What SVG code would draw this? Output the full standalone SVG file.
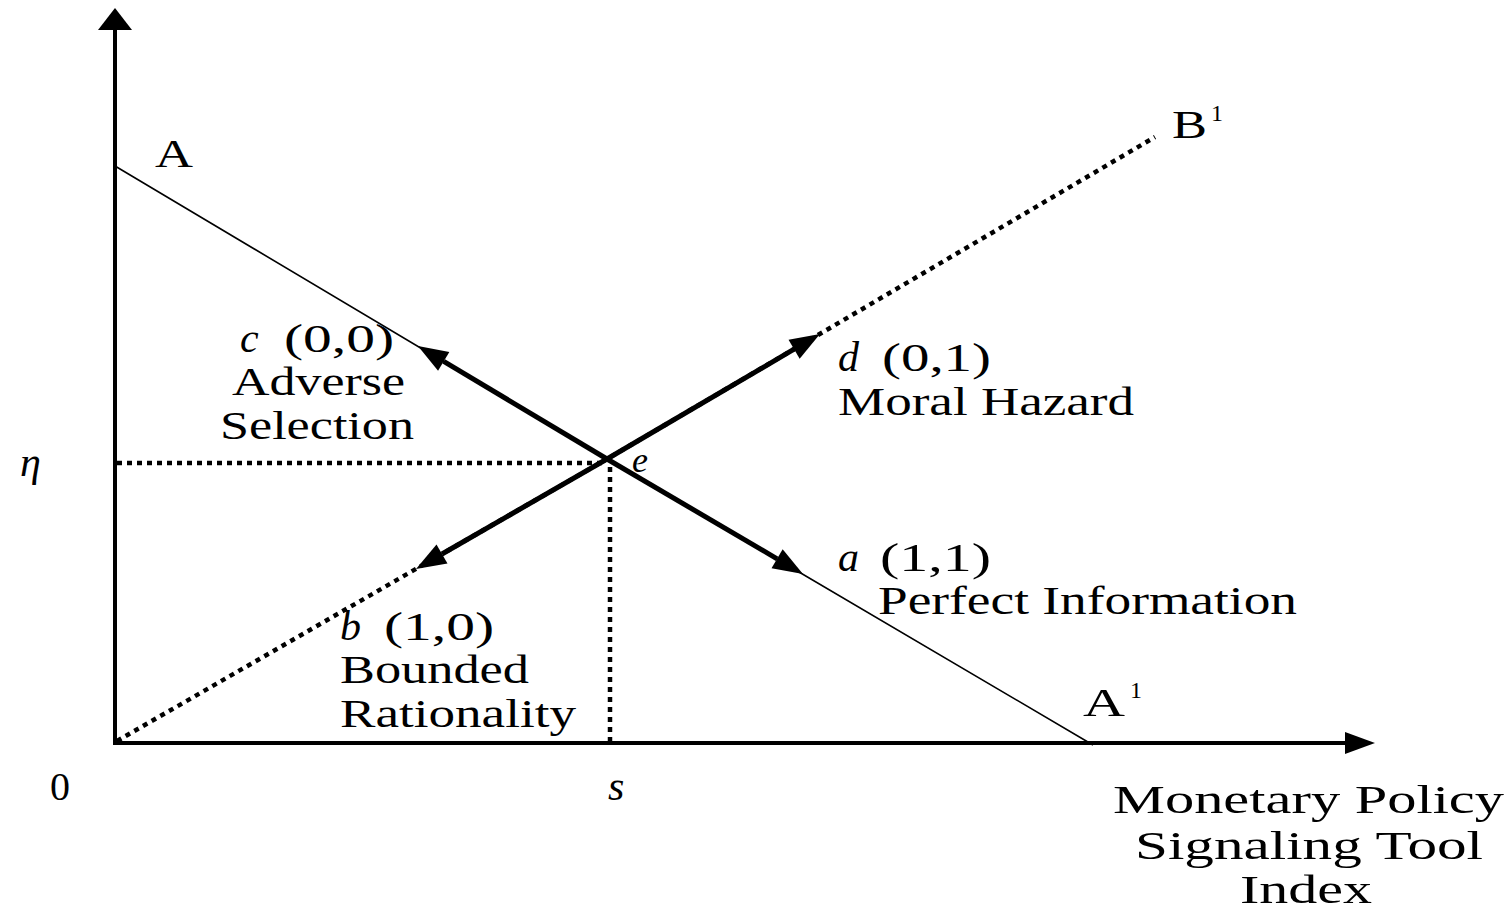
<svg xmlns="http://www.w3.org/2000/svg" width="1512" height="912" viewBox="0 0 1512 912">
<defs>
<style>
text{font-family:"Liberation Serif","Times New Roman",serif;font-size:40px;fill:#000}
.it{font-style:italic}
.sup{font-size:24px}
.axis{stroke:#000;stroke-width:4;fill:none}
.thin{stroke:#000;stroke-width:1.6;fill:none}
.dot{stroke:#000;stroke-width:4.5;stroke-dasharray:5 5;fill:none}
.thick{stroke:#000;stroke-width:5;fill:none}
</style>
<marker id="ah" markerUnits="userSpaceOnUse" markerWidth="40" markerHeight="30" refX="0" refY="12" orient="auto" overflow="visible">
<path d="M0,1 L30,12 L0,23 z" fill="#000"/>
</marker>
</defs>
<rect width="1512" height="912" fill="#fff"/>
<g id="connectors">
<line class="axis" x1="115" y1="745" x2="115" y2="28"/>
<polygon points="115,8 98,30 132,30" fill="#000"/>
<line class="axis" x1="113" y1="743" x2="1348" y2="743"/>
<polygon points="1375,743 1345,732 1345,754" fill="#000"/>
<polyline class="thin" points="115,166 607,459 1093,745"/>
<polyline class="dot" points="117,741 607,459 1155,137"/>
<line class="dot" x1="117" y1="463" x2="605" y2="463"/>
<line class="dot" x1="610" y1="467" x2="610" y2="741"/>
<line class="thick" x1="607" y1="459" x2="443.7" y2="361.4" marker-end="url(#ah)"/>
<line class="thick" x1="607" y1="459" x2="777.1" y2="558.8" marker-end="url(#ah)"/>
<line class="thick" x1="607" y1="459" x2="794.1" y2="349.2" marker-end="url(#ah)"/>
<line class="thick" x1="607" y1="459" x2="442" y2="554" marker-end="url(#ah)"/>
</g>
<g id="label-A"><text x="155" y="167" textLength="38" lengthAdjust="spacingAndGlyphs">A</text></g>
<g id="label-B1"><text x="1172" y="138" textLength="35" lengthAdjust="spacingAndGlyphs">B</text><text class="sup" x="1211" y="121">1</text></g>
<g id="label-A1"><text x="1083" y="716" textLength="42" lengthAdjust="spacingAndGlyphs">A</text><text class="sup" x="1130" y="698">1</text></g>
<g id="node-c"><text class="it" x="240" y="352" style="font-size:42px">c</text><text x="284" y="352" textLength="110" lengthAdjust="spacingAndGlyphs">(0,0)</text>
<text x="232" y="395" textLength="173" lengthAdjust="spacingAndGlyphs">Adverse</text>
<text x="220" y="439" textLength="194" lengthAdjust="spacingAndGlyphs">Selection</text></g>
<g id="node-d"><text class="it" x="838" y="371" style="font-size:42px">d</text><text x="882" y="371" textLength="109" lengthAdjust="spacingAndGlyphs">(0,1)</text>
<text x="838" y="415" textLength="296" lengthAdjust="spacingAndGlyphs">Moral Hazard</text></g>
<g id="node-e"><text class="it" x="632" y="472" style="font-size:36px">e</text></g>
<g id="node-a"><text class="it" x="838" y="571" style="font-size:42px">a</text><text x="880" y="571" textLength="111" lengthAdjust="spacingAndGlyphs">(1,1)</text>
<text x="878" y="614" textLength="419" lengthAdjust="spacingAndGlyphs">Perfect Information</text></g>
<g id="node-b"><text class="it" x="340" y="640" style="font-size:42px">b</text><text x="384" y="640" textLength="110" lengthAdjust="spacingAndGlyphs">(1,0)</text>
<text x="340" y="683" textLength="189" lengthAdjust="spacingAndGlyphs">Bounded</text>
<text x="340" y="727" textLength="236" lengthAdjust="spacingAndGlyphs">Rationality</text></g>
<g id="label-eta"><text class="it" x="20" y="476" style="font-size:42px">η</text></g>
<g id="label-0"><text x="50" y="800">0</text></g>
<g id="label-s"><text class="it" x="608" y="800" style="font-size:42px">s</text></g>
<g id="label-xaxis">
<text x="1113" y="813" textLength="391" lengthAdjust="spacingAndGlyphs">Monetary Policy</text>
<text x="1135" y="859" textLength="348" lengthAdjust="spacingAndGlyphs">Signaling Tool</text>
<text x="1240" y="903" textLength="132" lengthAdjust="spacingAndGlyphs">Index</text>
</g>
</svg>
